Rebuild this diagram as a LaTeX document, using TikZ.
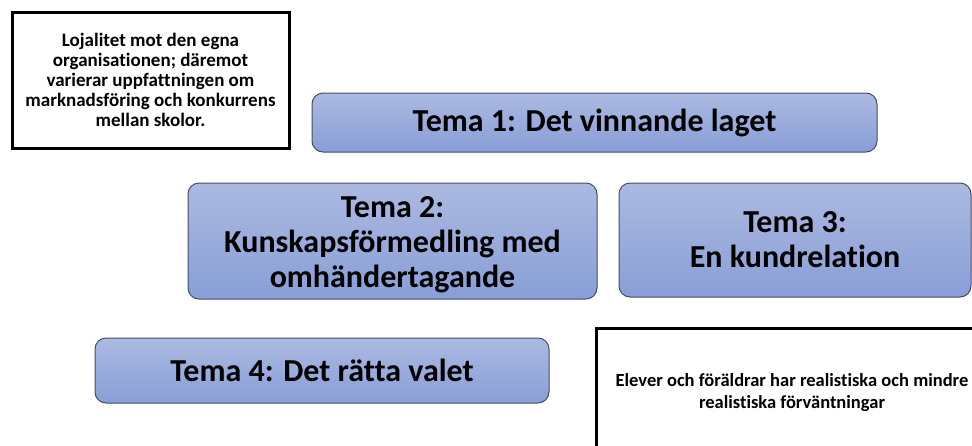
\documentclass[tikz,border=0pt]{standalone}
\usepackage{fontspec}
\setmainfont{Carlito}[Ligatures=NoCommon]
\definecolor{tematop}{RGB}{172,186,226}
\definecolor{temabot}{RGB}{136,158,214}
\definecolor{temaedge}{RGB}{70,78,98}
\tikzset{
  tema/.style={draw=temaedge, line width=1pt, rounded corners=11pt,
    top color=tematop, bottom color=temabot, align=center,
    font=\bfseries\fontsize{32}{35}\selectfont, inner sep=0pt},
  note/.style={draw=black, line width=3pt, fill=white, align=center, inner sep=0pt}
}
\begin{document}
\begin{tikzpicture}[x=1pt,y=-1pt]
\useasboundingbox (0,0) rectangle (972,445);
\clip (0,0) rectangle (972,445);
\node[note, minimum width=277pt, minimum height=136pt,
  font=\bfseries\fontsize{19}{20}\selectfont] (lojal) at (150.5,80)
  {Lojalitet mot den egna\\organisationen; däremot\\varierar uppfattningen om\\marknadsföring och konkurrens\\mellan skolor.};
\node[tema, minimum width=565pt, minimum height=59pt] (t1) at (594.5,122.5)
  {Tema 1: Det vinnande laget};
\node[tema, minimum width=409pt, minimum height=116pt] (t2) at (392.5,241)
  {\rule{0pt}{0pt}\\[-6pt]Tema 2:\\Kunskapsförmedling med\\omhändertagande};
\node[tema, minimum width=352pt, minimum height=114pt] (t3) at (795,240)
  {Tema 3:\\En kundrelation};
\node[tema, minimum width=454pt, minimum height=65pt] (t4) at (322,370.5)
  {Tema 4: Det rätta valet};
\node[note, minimum width=392pt, minimum height=130pt,
  font=\bfseries\fontsize{18.5}{22}\selectfont] (elever) at (792,393)
  {Elever och föräldrar har realistiska och mindre\\realistiska förväntningar};
\end{tikzpicture}
\end{document}
